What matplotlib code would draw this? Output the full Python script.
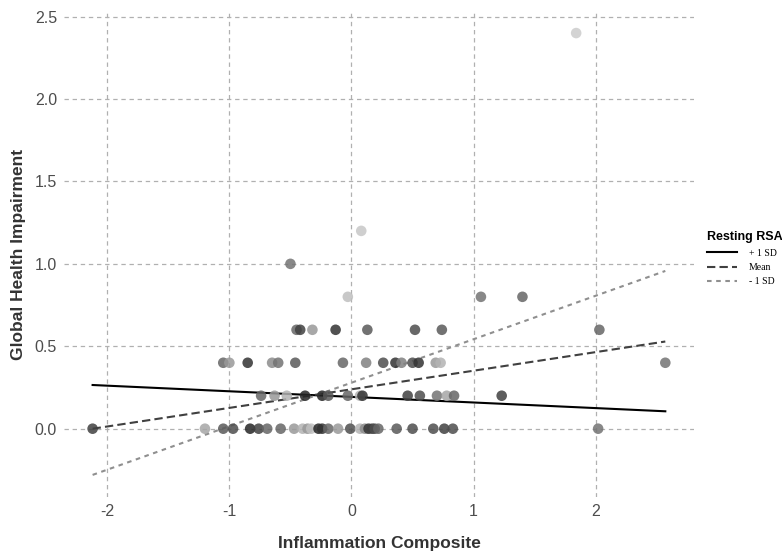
import matplotlib
matplotlib.use("Agg")
import matplotlib.pyplot as plt
from matplotlib.lines import Line2D
import numpy as np

# ---- data ----
x_y0 = [-2.12, -1.20, -1.05, -0.97, -0.83, -0.76, -0.69, -0.58, -0.47, -0.40, -0.36, -0.33,
        -0.27, -0.24, -0.19, -0.11, -0.01, 0.07, 0.11, 0.14, 0.17, 0.19, 0.22, 0.37, 0.50,
        0.67, 0.76, 0.83, 2.02]
g_y0 = [0.25, 0.65, 0.35, 0.30, 0.15, 0.25, 0.40, 0.40, 0.60, 0.70, 0.60, 0.75,
        0.15, 0.20, 0.40, 0.60, 0.30, 0.70, 0.55, 0.20, 0.25, 0.30, 0.40, 0.35, 0.30,
        0.30, 0.25, 0.30, 0.45]
x_y02 = [-0.74, -0.63, -0.53, -0.38, -0.24, -0.19, -0.03, 0.07, 0.09, 0.46, 0.56, 0.70, 0.78, 0.84, 1.23]
g_y02 = [0.40, 0.60, 0.70, 0.15, 0.15, 0.35, 0.40, 0.70, 0.20, 0.25, 0.30, 0.45, 0.65, 0.40, 0.25]
x_y04 = [-1.05, -1.00, -0.85, -0.65, -0.60, -0.46, -0.07, 0.12, 0.26, 0.36, 0.41, 0.50, 0.55, 0.69, 0.73, 2.57]
g_y04 = [0.40, 0.60, 0.20, 0.55, 0.45, 0.35, 0.40, 0.50, 0.30, 0.20, 0.50, 0.30, 0.20, 0.60, 0.70, 0.45]
x_y06 = [-0.45, -0.42, -0.32, -0.13, 0.13, 0.52, 0.74, 2.03]
g_y06 = [0.40, 0.25, 0.60, 0.20, 0.35, 0.30, 0.35, 0.40]
x_y08 = [-0.03, 1.06, 1.40]
g_y08 = [0.75, 0.45, 0.40]
x_hi = [-0.50, 0.08, 1.84]
y_hi = [1.0, 1.2, 2.4]
g_hi = [0.45, 0.78, 0.80]

# simple slopes (intercept at x = 0, slope) for RSA levels
line_labels = ["+ 1 SD", "Mean", "- 1 SD"]
intercepts = [0.193, 0.239, 0.279]
slopes = [-0.034, 0.1128, 0.2638]

x_ticks = [-2, -1, 0, 1, 2]
y_ticks = [0.0, 0.5, 1.0, 1.5, 2.0, 2.5]

# ---- assemble ----
xs = x_y0 + x_y02 + x_y04 + x_y06 + x_y08 + x_hi
ys = ([0.0] * len(x_y0) + [0.2] * len(x_y02) + [0.4] * len(x_y04) +
      [0.6] * len(x_y06) + [0.8] * len(x_y08) + y_hi)
gs = g_y0 + g_y02 + g_y04 + g_y06 + g_y08 + g_hi

fig = plt.figure(figsize=(7.82, 5.54), dpi=100)
ax = fig.add_axes([0.0818, 0.1029, 0.8056, 0.8773])

xmin, xmax = min(xs), max(xs)
xl = np.array([xmin, xmax])
styles = [dict(color="black", linestyle="-"),
          dict(color="#404040", linestyle=(0, (4, 2))),
          dict(color="#8f8f8f", linestyle=(0, (2.2, 2.2)))]
handles = []
for b0, b1, lab, st in zip(intercepts, slopes, line_labels, styles):
    ax.plot(xl, b0 + b1 * xl, lw=1.5, zorder=2, **st)
    handles.append(Line2D([0], [0], lw=1.5, label=lab, **st))

ax.scatter(xs, ys, s=58, c=[str(g) for g in gs], alpha=0.85, edgecolors="none", zorder=3)

# limits with 5% expansion like ggplot
yall = ys + [b0 + b1 * xx for b0, b1 in zip(intercepts, slopes) for xx in xl]
xr = xmax - xmin
yr = max(yall) - min(yall)
ax.set_xlim(xmin - 0.05 * xr, xmax + 0.05 * xr)
ax.set_ylim(min(yall) - 0.05 * yr, max(yall) + 0.05 * yr)

ax.set_xticks(x_ticks)
ax.set_xticklabels([str(t) for t in x_ticks])
ax.set_yticks(y_ticks)
ax.set_yticklabels([f"{t:.1f}" for t in y_ticks])
ax.grid(True, color="#b0b0b0", lw=0.9, linestyle=(0, (3.5, 3)), zorder=0)
ax.set_axisbelow(True)
for sp in ax.spines.values():
    sp.set_visible(False)
ax.tick_params(length=0, labelsize=11.5, labelcolor="#4d4d4d", pad=5)
for lab in ax.get_xticklabels() + ax.get_yticklabels():
    lab.set_fontfamily("Liberation Sans")

ax.set_xlabel("Inflammation Composite", fontfamily="Liberation Sans", fontweight="bold",
              fontsize=12.5, color="#333333", labelpad=12)
ax.set_ylabel("Global Health Impairment", fontfamily="Liberation Sans", fontweight="bold",
              fontsize=12.5, color="#333333", labelpad=6)

leg = fig.legend(handles=handles, loc="upper left", bbox_to_anchor=(0.893, 0.598),
                 frameon=False, title="Resting RSA", handlelength=3.1, handletextpad=1.2,
                 labelspacing=0.55, prop={"family": "Liberation Serif", "size": 7})
leg.get_title().set_fontfamily("Liberation Sans")
leg.get_title().set_fontweight("bold")
leg.get_title().set_fontsize(9)
leg._legend_box.align = "left"

fig.savefig("out.png", dpi=100)
